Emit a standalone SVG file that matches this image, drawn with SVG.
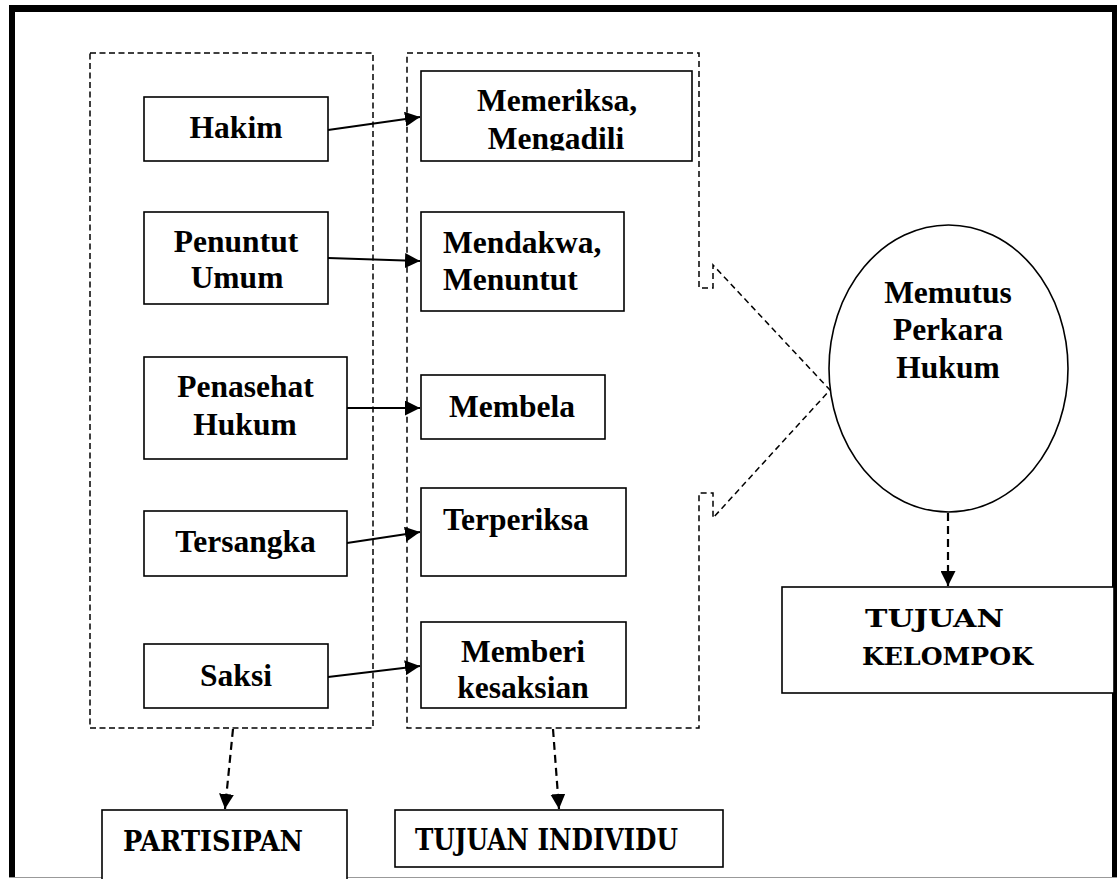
<svg xmlns="http://www.w3.org/2000/svg" width="1117" height="879" viewBox="0 0 1117 879">
  <style>
    .box { fill: #fff; stroke: #000; stroke-width: 1.6; }
    .grp { fill: none; stroke: #000; stroke-width: 1.5; stroke-dasharray: 6 3.5; }
    .call { fill: none; stroke: #000; stroke-width: 1.5; stroke-dasharray: 6 4; }
    .link { fill: none; stroke: #000; stroke-width: 2; }
    .dlink { fill: none; stroke: #000; stroke-width: 2.2; stroke-dasharray: 8 5; }
    .t { font-family: "Liberation Serif", "Times New Roman", serif; font-weight: bold; font-size: 31.5px; fill: #000; text-anchor: middle; }
    .tl { text-anchor: start; }
    .c { font-family: "DejaVu Serif Condensed", "DejaVu Serif", "Liberation Serif", serif; font-stretch: condensed; font-weight: bold; fill: #000; }
  </style>
  <defs>
    <marker id="arrow" markerUnits="userSpaceOnUse" markerWidth="15" markerHeight="15" refX="15" refY="7.5" orient="auto">
      <path d="M0,0 L15,7.5 L0,15 Z" fill="#000"/>
    </marker>
    <clipPath id="clipMengadili">
      <rect x="421" y="71" width="271" height="79.5"/>
    </clipPath>
  </defs>

  <rect width="1117" height="879" fill="#fff"/>

  <!-- page frame -->
  <g id="frame">
    <rect x="9" y="5" width="1108" height="7" fill="#000"/>
    <rect x="9" y="5" width="6" height="873" fill="#000"/>
    <rect x="1112" y="5" width="5" height="873" fill="#000"/>
    <line x1="9" y1="877.5" x2="1117" y2="877.5" stroke="#999" stroke-width="1"/>
  </g>

  <!-- participant group -->
  <g id="group-partisipan">
    <rect class="grp" x="90" y="53" width="283" height="675"/>
  </g>

  <!-- individual goals group, shaped as a callout toward the ellipse -->
  <g id="group-tujuan-individu">
    <path class="call" d="M407,53 L699,53 L699,288 L713,288 L713,265 L830,390 L713,518 L713,493 L699,493 L699,728 L407,728 Z"/>
  </g>

  <!-- connectors -->
  <g id="connectors">
    <line class="link" x1="328" y1="130" x2="420" y2="117" marker-end="url(#arrow)"/>
    <line class="link" x1="328" y1="258" x2="420" y2="261" marker-end="url(#arrow)"/>
    <line class="link" x1="347" y1="408" x2="420" y2="408" marker-end="url(#arrow)"/>
    <line class="link" x1="347" y1="543" x2="420" y2="532" marker-end="url(#arrow)"/>
    <line class="link" x1="328" y1="677" x2="420" y2="666" marker-end="url(#arrow)"/>
    <line class="dlink" x1="233" y1="729" x2="225" y2="809" marker-end="url(#arrow)"/>
    <line class="dlink" x1="553" y1="729" x2="559" y2="809" marker-end="url(#arrow)"/>
    <line class="dlink" x1="948" y1="513" x2="948" y2="586" marker-end="url(#arrow)"/>
  </g>

  <!-- participants -->
  <g id="node-hakim">
    <rect class="box" x="144" y="97" width="184" height="64"/>
    <text class="t" x="236" y="138">Hakim</text>
  </g>
  <g id="node-penuntut-umum">
    <rect class="box" x="144" y="212" width="184" height="92"/>
    <text class="t" x="236" y="252">Penuntut</text>
    <text class="t" x="237" y="288">Umum</text>
  </g>
  <g id="node-penasehat-hukum">
    <rect class="box" x="144" y="357" width="203" height="102"/>
    <text class="t" x="245.5" y="397">Penasehat</text>
    <text class="t" x="245" y="435">Hukum</text>
  </g>
  <g id="node-tersangka">
    <rect class="box" x="144" y="511" width="203" height="65"/>
    <text class="t" x="245.5" y="552">Tersangka</text>
  </g>
  <g id="node-saksi">
    <rect class="box" x="144" y="644" width="184" height="64"/>
    <text class="t" x="236" y="686">Saksi</text>
  </g>

  <!-- individual goals -->
  <g id="node-memeriksa">
    <rect class="box" x="421" y="71" width="271" height="90"/>
    <text class="t" x="557" y="111">Memeriksa,</text>
    <text class="t" x="556" y="149" clip-path="url(#clipMengadili)">Mengadili</text>
  </g>
  <g id="node-mendakwa">
    <rect class="box" x="421" y="212" width="203" height="99"/>
    <text class="t tl" x="443" y="253">Mendakwa,</text>
    <text class="t tl" x="443" y="290">Menuntut</text>
  </g>
  <g id="node-membela">
    <rect class="box" x="421" y="375" width="184" height="64"/>
    <text class="t" x="512" y="417">Membela</text>
  </g>
  <g id="node-terperiksa">
    <rect class="box" x="421" y="488" width="205" height="88"/>
    <text class="t tl" x="443" y="530">Terperiksa</text>
  </g>
  <g id="node-memberi-kesaksian">
    <rect class="box" x="421" y="622" width="205" height="86"/>
    <text class="t" x="523" y="662">Memberi</text>
    <text class="t" x="523" y="698">kesaksian</text>
  </g>

  <!-- shared outcome -->
  <g id="node-memutus-perkara">
    <ellipse class="box" cx="948.5" cy="368.5" rx="119.5" ry="143.5"/>
    <text class="t" x="948" y="303">Memutus</text>
    <text class="t" x="948" y="340">Perkara</text>
    <text class="t" x="948" y="378">Hukum</text>
  </g>

  <!-- summary labels -->
  <g id="node-partisipan">
    <rect class="box" x="102" y="810" width="245" height="70"/>
    <text class="c" x="123" y="851" font-size="28" textLength="180" lengthAdjust="spacingAndGlyphs">PARTISIPAN</text>
  </g>
  <g id="node-tujuan-individu">
    <rect class="box" x="395" y="810" width="328" height="57"/>
    <text class="c" x="415" y="850" font-size="29" textLength="263" lengthAdjust="spacingAndGlyphs">TUJUAN INDIVIDU</text>
  </g>
  <g id="node-tujuan-kelompok">
    <rect class="box" x="782" y="587" width="332" height="106"/>
    <text class="c" x="865" y="627" font-size="25" textLength="139" lengthAdjust="spacingAndGlyphs">TUJUAN</text>
    <text class="c" x="862" y="665" font-size="25" textLength="171" lengthAdjust="spacingAndGlyphs">KELOMPOK</text>
  </g>
</svg>
